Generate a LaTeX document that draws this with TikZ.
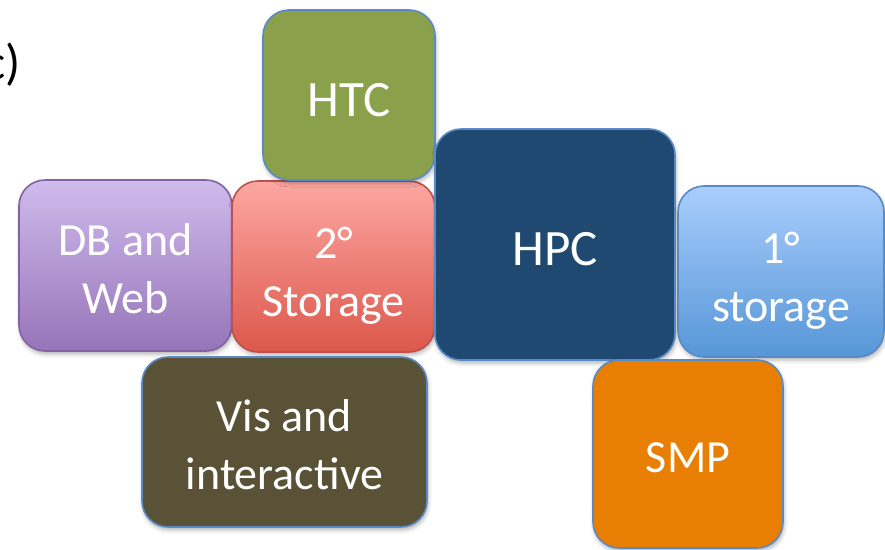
\documentclass[tikz,border=0pt]{standalone}
\usepackage{fontspec}
\setmainfont{Carlito}
\usetikzlibrary{shadows.blur}

\definecolor{edgeblue}{RGB}{88,138,198}
\definecolor{edgepurple}{RGB}{128,100,162}
\definecolor{edgered}{RGB}{192,80,77}
\definecolor{htcgreen}{RGB}{138,160,74}
\definecolor{hpcnavy}{RGB}{31,73,113}
\definecolor{smporange}{RGB}{232,126,4}
\definecolor{visolive}{RGB}{90,82,55}
\definecolor{dbtop}{RGB}{207,187,236}
\definecolor{dbbottom}{RGB}{150,116,184}
\definecolor{sectop}{RGB}{253,167,162}
\definecolor{secbottom}{RGB}{220,88,76}
\definecolor{pritop}{RGB}{170,206,252}
\definecolor{pribottom}{RGB}{86,150,215}

\tikzset{
  tile/.style={rectangle, rounded corners=26pt, draw=edgeblue, line width=1.6pt,
    inner sep=0pt,
    blur shadow={shadow xshift=1pt, shadow yshift=-3pt, shadow blur radius=4pt, shadow opacity=30}},
  caption/.style={text=white, align=center, inner sep=0pt, font=\fontsize{46}{58}\selectfont},
  bigcaption/.style={caption, font=\fontsize{51}{62}\selectfont},
}

\begin{document}
\begin{tikzpicture}[x=1pt, y=-1pt]
\useasboundingbox (0,0) rectangle (885,549);

% panel letter, partly cut by the left edge
\node[anchor=base east, inner sep=0pt, font=\fontsize{50}{60}\selectfont] (panel) at (21,79) {c)};

% tiles
\node[tile, draw=edgepurple, top color=dbtop, bottom color=dbbottom,
      minimum width=213pt, minimum height=171pt] (db) at (125.5,265.5) {};
\node[tile, draw=edgered, top color=sectop, bottom color=secbottom,
      minimum width=203pt, minimum height=171pt] (sec) at (333.5,266.5) {};
\node[tile, fill=htcgreen, minimum width=172pt, minimum height=170pt] (htc) at (349,95) {};
\node[tile, fill=hpcnavy, minimum width=240pt, minimum height=231pt] (hpc) at (555,244.5) {};
\node[tile, top color=pritop, bottom color=pribottom,
      minimum width=206pt, minimum height=171pt] (pri) at (781,271.5) {};
\node[tile, fill=visolive, minimum width=285pt, minimum height=170pt] (vis) at (284.5,442) {};
\node[tile, fill=smporange, minimum width=190pt, minimum height=188pt] (smp) at (688,454) {};

% captions
\node[caption] (db-t) at ([yshift=-3pt]db.center) {DB and\\Web};
\node[caption] (sec-t) at ([yshift=-9pt]sec.center) {2°\\Storage};
\node[bigcaption] (htc-t) at ([yshift=-5pt]htc.center) {HTC};
\node[bigcaption] (hpc-t) at ([yshift=-5pt]hpc.center) {HPC};
\node[caption] (pri-t) at ([yshift=-9pt]pri.center) {1°\\storage};
\node[caption] (vis-t) at ([yshift=-3pt]vis.center) {Vis and\\interactive};
\node[caption] (smp-t) at ([yshift=-4pt]smp.center) {SMP};
\end{tikzpicture}
\end{document}
